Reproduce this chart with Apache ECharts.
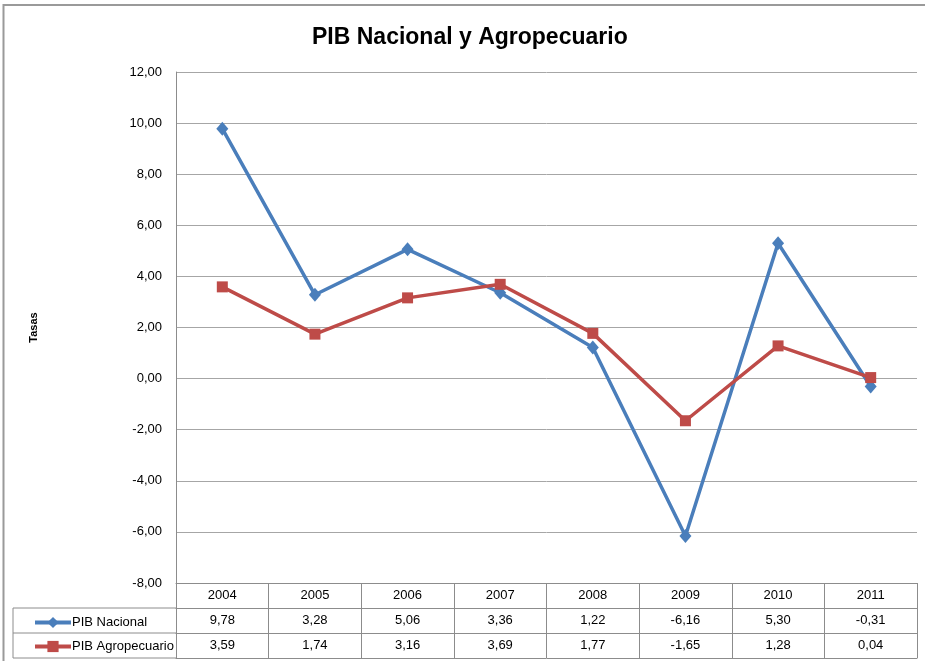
<!DOCTYPE html>
<html>
<head>
<meta charset="utf-8">
<script src="https://cdn.jsdelivr.net/npm/echarts@6/dist/echarts.min.js"></script>
<style>
  html, body { margin: 0; padding: 0; background: #fff; }
  #chart { width: 925px; height: 661px; }
</style>
</head>
<body>
<div id="chart"></div>
<script>
var years = ["2004", "2005", "2006", "2007", "2008", "2009", "2010", "2011"];
var pibNacional = [9.78, 3.28, 5.06, 3.36, 1.22, -6.16, 5.30, -0.31];
var pibAgro = [3.59, 1.74, 3.16, 3.69, 1.77, -1.65, 1.28, 0.04];
var seriesNames = ["PIB Nacional", "PIB Agropecuario"];

function fmt(v) {
    return v.toFixed(2).replace(".", ",");
}

var FONT = "Liberation Sans";
var GRID_LEFT = 176, GRID_RIGHT = 8, GRID_TOP = 72, GRID_BOTTOM = 78;
var ROW = 25;
var lineColor = "#8c8c8c";

var chart = echarts.init(document.getElementById("chart"));

function tableAxis(data, offset, showLabel) {
    return {
        type: "category",
        data: data,
        position: "bottom",
        offset: offset,
        axisLine: { show: true, onZero: false, lineStyle: { color: lineColor, width: 1 } },
        axisTick: { show: false },
        axisLabel: {
            show: showLabel,
            interval: 0,
            margin: 6,
            color: "#000",
            fontFamily: FONT,
            fontSize: 13
        },
        splitLine: { show: false }
    };
}

var tableBottom = 661 - GRID_BOTTOM + 3 * ROW;
var option = {
    animation: false,
    backgroundColor: "#fff",
    title: {
        text: "PIB Nacional y Agropecuario",
        left: 307,
        top: 21,
        textStyle: { fontFamily: FONT, fontSize: 23, fontWeight: "bold", color: "#000" }
    },
    legend: {
        orient: "vertical",
        left: 28,
        top: 661 - GRID_BOTTOM + ROW + 3,
        itemWidth: 36,
        itemHeight: 14,
        itemGap: 11,
        data: seriesNames,
        lineStyle: { width: 4 },
        textStyle: { fontFamily: FONT, fontSize: 13, color: "#000", padding: [0, 0, 0, -4] }
    },
    grid: { left: GRID_LEFT, right: GRID_RIGHT, top: GRID_TOP, bottom: GRID_BOTTOM, containLabel: false },
    xAxis: [
        {
            type: "category",
            data: years,
            position: "bottom",
            axisLine: { show: true, onZero: false, lineStyle: { color: lineColor, width: 1 } },
            axisTick: { show: true, interval: 0, length: 3 * ROW, lineStyle: { color: lineColor, width: 1 } },
            axisLabel: { interval: 0, margin: 6, color: "#000", fontFamily: FONT, fontSize: 13 },
            splitLine: { show: false }
        },
        tableAxis(pibNacional.map(fmt), ROW, true),
        tableAxis(pibAgro.map(fmt), 2 * ROW, true),
        tableAxis(years.map(function (y) { return "r" + y; }), 3 * ROW, false)
    ],
    yAxis: {
        type: "value",
        min: -8,
        max: 12,
        interval: 2,
        name: "Tasas",
        nameLocation: "middle",
        nameRotate: 90,
        nameGap: 137,
        nameTextStyle: { fontFamily: FONT, fontSize: 11, fontWeight: "bold", color: "#000" },
        axisLine: { show: true, lineStyle: { color: lineColor, width: 1 } },
        axisTick: { show: false },
        axisLabel: {
            margin: 14,
            color: "#000",
            fontFamily: FONT,
            fontSize: 13,
            formatter: function (v) { return fmt(v); }
        },
        splitLine: { show: true, lineStyle: { color: "#a6a6a6", width: 1 } }
    },
    series: [
        {
            name: seriesNames[0],
            type: "line",
            xAxisIndex: 0,
            data: pibNacional,
            symbol: "diamond",
            symbolSize: [12, 14],
            lineStyle: { color: "#4a7ebb", width: 3.5 },
            itemStyle: { color: "#4a7ebb" }
        },
        {
            name: seriesNames[1],
            type: "line",
            xAxisIndex: 0,
            data: pibAgro,
            symbol: "rect",
            symbolSize: 11,
            lineStyle: { color: "#be4b48", width: 3.5 },
            itemStyle: { color: "#be4b48" }
        }
    ],
    graphic: [
        { type: "rect", silent: true, shape: { x: 3.5, y: 5, width: 1200, height: 1200 },
          style: { fill: null, stroke: "#9a9a9a", lineWidth: 2 } },
        { type: "line", silent: true, shape: { x1: 13, y1: 661 - GRID_BOTTOM + ROW, x2: GRID_LEFT, y2: 661 - GRID_BOTTOM + ROW },
          style: { stroke: lineColor, lineWidth: 1 } },
        { type: "line", silent: true, shape: { x1: 13, y1: 661 - GRID_BOTTOM + 2 * ROW, x2: GRID_LEFT, y2: 661 - GRID_BOTTOM + 2 * ROW },
          style: { stroke: lineColor, lineWidth: 1 } },
        { type: "line", silent: true, shape: { x1: 13, y1: tableBottom, x2: GRID_LEFT, y2: tableBottom },
          style: { stroke: lineColor, lineWidth: 1 } },
        { type: "line", silent: true, shape: { x1: 13, y1: 661 - GRID_BOTTOM + ROW, x2: 13, y2: tableBottom },
          style: { stroke: lineColor, lineWidth: 1 } }
    ]
};
chart.setOption(option);
</script>
</body>
</html>
